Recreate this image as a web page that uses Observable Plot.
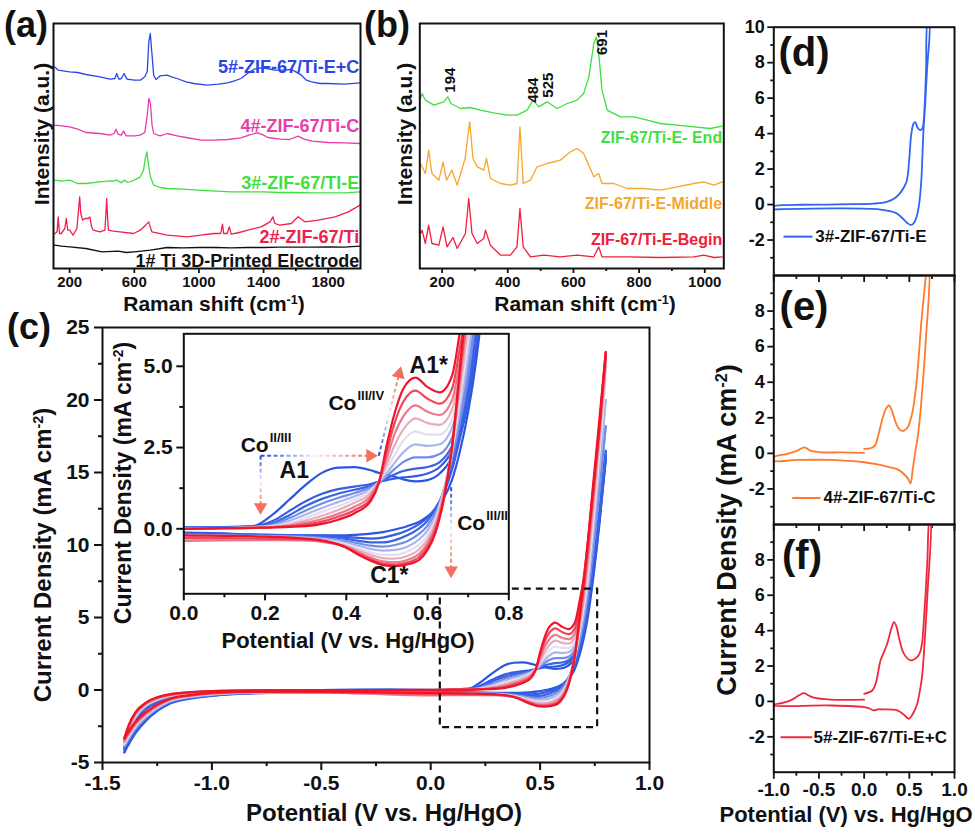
<!DOCTYPE html>
<html><head><meta charset="utf-8">
<script src="https://cdn.jsdelivr.net/npm/d3@7"></script>
<script src="https://cdn.jsdelivr.net/npm/@observablehq/plot@0.6"></script>
<style>
body{margin:0;background:#fff;}
#fig{position:relative;width:975px;height:833px;overflow:hidden;background:#fff;font-family:"Liberation Sans",Arial,sans-serif;font-weight:bold;}
.lbl{position:absolute;white-space:nowrap;font-weight:bold;line-height:1;color:#111;}
.lbl sup{font-size:0.6em;vertical-align:0.55em;line-height:0;}
</style></head><body><div id="fig"></div>
<script>
// ---------------- DATA ----------------
// (a) Raman spectra: [Raman shift cm-1, intensity a.u.]
const a5 = [[106,605],[130,595],[200,590],[250,588],[300,582],[387,575],[450,568],[480,570],[491,585],[505,568],[520,570],[537,585],[555,568],[600,565],[637,565],[665,575],[680,590],[690,680],[699,705],[710,640],[720,580],[735,567],[760,578],[803,580],[830,575],[865,570],[920,560],[969,555],[1052,550],[1120,553],[1177,557],[1220,563],[1260,570],[1300,585],[1343,598],[1385,602],[1420,600],[1468,595],[1520,595],[1572,597],[1600,590],[1634,580],[1665,565],[1697,560],[1750,555],[1800,555],[1900,553],[1998,557]];
const a4 = [[106,430],[150,428],[200,425],[250,418],[300,408],[387,405],[450,400],[475,405],[487,418],[500,403],[520,400],[533,412],[550,398],[600,398],[637,400],[665,408],[680,460],[690,510],[700,495],[710,430],[720,405],[760,398],[803,405],[865,398],[920,393],[1011,385],[1100,385],[1177,387],[1260,392],[1310,400],[1343,405],[1364,407],[1400,400],[1427,393],[1500,388],[1560,387],[1614,397],[1650,388],[1700,382],[1800,378],[1900,377],[1998,375]];
const a3 = [[106,265],[150,262],[200,265],[250,255],[300,255],[387,260],[450,263],[470,262],[491,265],[520,257],[537,265],[560,258],[600,265],[637,275],[657,295],[668,330],[678,350],[688,310],[700,275],[720,250],[760,243],[803,240],[900,238],[1000,235],[1100,232],[1200,230],[1300,230],[1400,230],[1500,228],[1600,228],[1700,227],[1800,227],[1900,227],[1998,230]];
const a2 = [[110,105],[122,110],[129,155],[137,105],[148,105],[170,120],[179,150],[188,115],[200,115],[221,100],[245,120],[255,175],[262,215],[269,165],[280,145],[295,150],[304,150],[315,150],[325,155],[336,125],[346,115],[387,110],[418,115],[424,160],[429,210],[434,160],[440,115],[470,112],[512,110],[595,105],[637,115],[670,130],[689,140],[709,110],[803,100],[928,95],[1011,100],[1094,105],[1135,105],[1146,133],[1153,105],[1175,105],[1188,125],[1200,103],[1250,108],[1302,115],[1385,125],[1440,140],[1458,155],[1470,135],[1500,130],[1572,135],[1614,155],[1655,140],[1738,145],[1842,155],[1925,170],[1998,190]];
const a1 = [[106,70],[150,67],[200,65],[300,60],[400,50],[500,52],[550,48],[600,50],[700,55],[803,63],[900,62],[1000,63],[1100,63],[1200,62],[1300,63],[1400,63],[1500,64],[1600,64],[1700,64],[1800,65],[1900,64],[1998,67]];
// (b) Raman spectra along the electrode
const bEnd = [[134,510],[139,525],[149,505],[175,490],[205,500],[217,515],[227,495],[256,480],[286,483],[317,475],[357,467],[398,460],[428,460],[459,475],[477,505],[494,485],[520,500],[550,480],[581,495],[611,505],[631,525],[647,575],[662,675],[670,695],[677,645],[687,535],[703,475],[743,455],[784,455],[825,445],[865,435],[916,430],[967,425],[1017,420],[1053,427]];
const bMiddle = [[134,315],[139,305],[149,285],[159,355],[169,285],[190,265],[203,320],[213,265],[230,295],[246,250],[270,330],[284,440],[294,330],[307,305],[327,295],[335,330],[347,270],[378,255],[408,250],[428,255],[437,425],[447,255],[469,265],[489,305],[520,315],[560,325],[591,350],[611,360],[631,345],[647,310],[662,275],[677,285],[687,255],[723,255],[764,240],[814,240],[865,235],[916,245],[967,255],[997,260],[1028,250],[1053,260]];
const bBegin = [[134,105],[139,115],[149,75],[159,130],[169,75],[190,70],[203,125],[215,65],[233,93],[246,60],[271,105],[281,210],[291,105],[307,75],[327,90],[332,115],[347,70],[378,40],[408,40],[428,65],[437,180],[447,65],[469,35],[510,40],[560,35],[611,40],[662,35],[677,65],[687,35],[764,35],[865,33],[967,35],[997,40],[1028,33],[1053,35]];
const bPeaks = ["194","484","525","691"];
const bPeakX = [225,477,522,687];
const bPeakY = [565,535,550,678];

// (c) CV cycles: potential grids (V vs Hg/HgO) and current density (mA cm-2)
const vAnodic = [-1.4,-1.38,-1.35,-1.3,-1.25,-1.2,-1.1,-1.0,-0.8,-0.5,-0.2,0.0,0.1,0.17,0.22,0.26,0.3,0.34,0.38,0.42,0.46,0.48,0.5,0.52,0.54,0.57,0.6,0.63,0.66,0.68,0.7,0.72,0.74,0.77,0.8];
const vCathodic = [-1.4,-1.35,-1.3,-1.2,-1.1,-1.0,-0.8,-0.6,-0.3,0.0,0.2,0.3,0.35,0.4,0.43,0.46,0.49,0.52,0.55,0.58,0.6,0.62,0.64,0.66,0.68,0.7,0.72,0.74,0.77,0.8];
const anod1 = [-4.3,-3.3,-2.2,-1.3,-0.85,-0.6,-0.32,-0.17,-0.06,-0.01,0.02,0.05,0.05,0.08,0.45,0.9,1.35,1.72,1.88,1.9,1.8,1.72,1.66,1.6,1.52,1.46,1.5,1.7,2.2,2.9,4.0,5.6,7.6,11.5,15.9];
const anod2 = [-4.1,-3.15,-2.1,-1.22,-0.8,-0.56,-0.3,-0.16,-0.05,-0.01,0.01,0.05,0.05,0.08,0.25,0.55,0.85,1.08,1.22,1.3,1.38,1.45,1.5,1.55,1.58,1.62,1.7,1.9,2.4,3.1,4.3,6.0,8.0,11.8,16.2];
const anod3 = [-4.0,-3.05,-2.0,-1.17,-0.76,-0.52,-0.28,-0.14,-0.05,0,0.01,0.04,0.04,0.07,0.18,0.42,0.7,0.92,1.08,1.2,1.32,1.42,1.55,1.68,1.78,1.85,1.9,2.05,2.55,3.3,4.6,6.3,8.4,12.2,16.5];
const anod4 = [-3.9,-2.95,-1.95,-1.12,-0.72,-0.49,-0.26,-0.13,-0.04,0,0.01,0.03,0.03,0.06,0.14,0.33,0.56,0.78,0.95,1.1,1.28,1.42,1.62,1.85,2.05,2.2,2.2,2.3,2.8,3.6,5.0,7.0,9.5,13.8,18.2];
const anod5 = [-3.8,-2.85,-1.88,-1.07,-0.68,-0.46,-0.24,-0.12,-0.04,0,0,0.02,0.02,0.05,0.1,0.25,0.44,0.64,0.82,1.0,1.22,1.42,1.72,2.05,2.35,2.6,2.55,2.6,3.1,3.9,5.4,7.5,10.5,15.3,20.0];
const anod6 = [-3.7,-2.75,-1.8,-1.02,-0.64,-0.43,-0.22,-0.11,-0.03,0,0,0.02,0.02,0.04,0.08,0.18,0.34,0.52,0.7,0.9,1.18,1.45,1.85,2.3,2.7,3.0,2.9,2.9,3.35,4.3,5.9,8.2,11.4,16.4,21.5];
const anod7 = [-3.6,-2.65,-1.73,-0.97,-0.6,-0.4,-0.2,-0.1,-0.03,0,0,0.01,0.02,0.04,0.06,0.13,0.25,0.4,0.58,0.8,1.1,1.45,2.0,2.6,3.05,3.4,3.25,3.2,3.65,4.8,6.4,9.0,12.2,17.1,22.3];
const anod8 = [-3.5,-2.58,-1.66,-0.93,-0.56,-0.37,-0.18,-0.09,-0.02,0,0,0.01,0.02,0.03,0.05,0.1,0.18,0.3,0.46,0.68,1.02,1.45,2.2,2.95,3.45,3.8,3.6,3.5,3.95,5.2,6.9,9.6,12.8,17.6,22.8];
const anod9 = [-3.4,-2.5,-1.6,-0.89,-0.53,-0.34,-0.16,-0.08,-0.02,0,0,0.0,0.02,0.03,0.05,0.08,0.13,0.22,0.37,0.57,0.93,1.42,2.4,3.3,3.9,4.25,4.0,3.85,4.3,5.6,7.3,10.1,13.2,17.9,23.1];
const anod10 = [-3.3,-2.4,-1.55,-0.85,-0.5,-0.32,-0.15,-0.07,-0.02,0,0,0.0,0.02,0.03,0.04,0.06,0.08,0.15,0.28,0.48,0.85,1.4,2.6,3.6,4.3,4.65,4.36,4.2,4.7,6.1,7.8,10.5,13.5,18.0,23.3];
const cath1 = [-4.3,-3.0,-2.1,-1.0,-0.6,-0.4,-0.22,-0.18,-0.15,-0.12,-0.18,-0.2,-0.2,-0.2,-0.18,-0.15,-0.1,-0.02,0.08,0.22,0.38,0.6,0.95,1.5,2.4,3.6,5.2,7.4,11.3,15.9];
const cath2 = [-4.1,-2.9,-2.0,-0.95,-0.57,-0.38,-0.21,-0.17,-0.15,-0.14,-0.19,-0.21,-0.22,-0.25,-0.28,-0.3,-0.27,-0.18,-0.05,0.15,0.35,0.65,1.1,1.8,2.8,3.9,5.6,7.8,11.6,16.2];
const cath3 = [-4.0,-2.8,-1.95,-0.9,-0.54,-0.36,-0.2,-0.16,-0.15,-0.16,-0.2,-0.23,-0.25,-0.31,-0.37,-0.42,-0.42,-0.35,-0.2,0.02,0.25,0.6,1.15,2.0,3.0,4.2,6.0,8.2,12.0,16.5];
const cath4 = [-3.9,-2.7,-1.9,-0.86,-0.51,-0.33,-0.19,-0.15,-0.15,-0.18,-0.22,-0.25,-0.29,-0.38,-0.45,-0.52,-0.55,-0.5,-0.38,-0.15,0.1,0.5,1.2,2.15,3.3,4.7,6.7,9.3,13.6,18.2];
const cath5 = [-3.8,-2.6,-1.82,-0.82,-0.48,-0.31,-0.18,-0.14,-0.16,-0.2,-0.23,-0.27,-0.32,-0.43,-0.52,-0.62,-0.67,-0.65,-0.55,-0.32,-0.05,0.4,1.2,2.3,3.7,5.3,7.4,10.3,15.0,20.0];
const cath6 = [-3.7,-2.5,-1.75,-0.78,-0.45,-0.29,-0.17,-0.15,-0.2,-0.26,-0.28,-0.31,-0.36,-0.48,-0.6,-0.72,-0.8,-0.8,-0.7,-0.48,-0.2,0.3,1.15,2.4,4.0,5.8,8.1,11.2,16.2,21.5];
const cath7 = [-3.6,-2.42,-1.7,-0.74,-0.42,-0.27,-0.16,-0.15,-0.24,-0.34,-0.33,-0.35,-0.4,-0.52,-0.66,-0.8,-0.9,-0.92,-0.84,-0.62,-0.33,0.2,1.1,2.5,4.3,6.3,8.8,12.0,17.0,22.3];
const cath8 = [-3.5,-2.35,-1.62,-0.7,-0.4,-0.24,-0.14,-0.14,-0.25,-0.37,-0.35,-0.36,-0.42,-0.55,-0.72,-0.88,-1.0,-1.03,-0.96,-0.76,-0.45,0.1,1.05,2.5,4.6,6.8,9.5,12.7,17.5,22.8];
const cath9 = [-3.4,-2.28,-1.56,-0.68,-0.37,-0.22,-0.13,-0.13,-0.18,-0.28,-0.3,-0.33,-0.4,-0.57,-0.77,-0.94,-1.07,-1.1,-1.04,-0.86,-0.55,0.0,0.95,2.5,4.8,7.2,10.1,13.4,18.1,23.1];
const cath10 = [-3.3,-2.2,-1.5,-0.65,-0.35,-0.2,-0.12,-0.12,-0.15,-0.2,-0.24,-0.3,-0.38,-0.58,-0.8,-0.98,-1.12,-1.15,-1.1,-0.95,-0.65,-0.1,0.9,2.5,5.0,7.6,10.5,13.8,18.5,23.3];
const anodicCycles = [anod1,anod2,anod3,anod4,anod5,anod6,anod7,anod8,anod9,anod10];
const cathodicCycles = [cath1,cath2,cath3,cath4,cath5,cath6,cath7,cath8,cath9,cath10];

// (d)-(f) CV curves: [V, mA cm-2] in scan order
const cv3E = [[-1.0,-0.08],[-0.9,-0.03],[-0.7,-0.01],[-0.4,0.0],[-0.1,0.02],[0.1,0.05],[0.25,0.15],[0.35,0.4],[0.42,0.8],[0.47,1.3],[0.5,2.6],[0.52,3.9],[0.545,4.55],[0.565,4.65],[0.59,4.35],[0.62,4.2],[0.645,4.3],[0.665,5.2],[0.685,7.5],[0.705,10.3],[0.72,10.3],[0.695,7.5],[0.675,5.6],[0.655,4.0],[0.632,1.3],[0.605,-0.1],[0.57,-0.85],[0.54,-1.1],[0.515,-1.15],[0.48,-1.05],[0.44,-0.85],[0.35,-0.47],[0.18,-0.28],[-0.37,-0.22],[-1.0,-0.28]];
const cv4C = [[0.0,0.25],[0.08,0.3],[0.12,0.45],[0.16,1.09],[0.2,1.9],[0.24,2.5],[0.273,2.69],[0.3,2.5],[0.33,2.03],[0.36,1.6],[0.4,1.3],[0.44,1.28],[0.48,1.45],[0.52,2.0],[0.55,2.78],[0.58,4.0],[0.605,5.5],[0.63,7.2],[0.66,8.8],[0.70,10.3],[0.715,10.3],[0.68,6.2],[0.65,4.0],[0.624,2.4],[0.595,1.0],[0.568,0.15],[0.54,-0.8],[0.513,-1.7],[0.49,-1.45],[0.44,-1.16],[0.37,-0.9],[0.29,-0.79],[0.15,-0.62],[0.0,-0.5],[-0.37,-0.37],[-0.74,-0.37],[-1.0,-0.41],[-1.0,-0.22],[-0.85,-0.03],[-0.74,0.15],[-0.66,0.34],[-0.594,0.15],[-0.483,0.06],[-0.26,0.05],[0.0,0.03]];
const cv5EC = [[0.0,0.43],[0.09,0.62],[0.12,0.9],[0.145,1.37],[0.18,2.3],[0.22,2.8],[0.255,3.26],[0.3,4.1],[0.33,4.48],[0.36,4.2],[0.384,3.63],[0.44,2.7],[0.513,2.32],[0.587,2.5],[0.62,2.8],[0.64,3.26],[0.66,4.5],[0.68,6.1],[0.70,8.0],[0.725,10.3],[0.735,10.3],[0.70,6.0],[0.68,4.2],[0.66,2.6],[0.64,1.37],[0.61,0.4],[0.587,-0.13],[0.55,-0.6],[0.494,-0.98],[0.44,-0.75],[0.366,-0.51],[0.22,-0.45],[0.15,-0.45],[0.107,-0.51],[0.06,-0.4],[0.0,-0.32],[-0.37,-0.23],[-1.0,-0.23],[-1.0,-0.2],[-0.9,-0.08],[-0.815,0.06],[-0.72,0.35],[-0.668,0.47],[-0.6,0.3],[-0.557,0.21],[-0.37,0.1],[0.0,0.1]];

// tick values
const aTicks = [200,600,1000,1400,1800], aMinor = [400,800,1200,1600];
const bTicks = [200,400,600,800,1000], bMinor = [300,500,700,900];
const cXTicks = [-1.5,-1.0,-0.5,0.0,0.5,1.0], cXMinor = [-1.25,-0.75,-0.25,0.25,0.75];
const cYTicks = [-5,0,5,10,15,20,25], cYMinor = [-2.5,2.5,7.5,12.5,17.5,22.5];
const iXTicks = [0,0.2,0.4,0.6,0.8], iXMinor = [0.1,0.3,0.5,0.7];
const iYTicks = [0,2.5,5], iYMinor = [-1.25,1.25,3.75];
const rXTicks = [-1,-0.5,0,0.5,1], rXMinor = [-0.75,-0.25,0.25,0.75];
const rYTicksD = [-2,0,2,4,6,8,10], rYTicks = [-2,0,2,4,6,8], rYMinor = [-3,-1,1,3,5,7,9];

// ---------------- STYLE / LAYOUT ----------------
const FONT = "'Liberation Sans', Arial, Helvetica, sans-serif";
const fig = document.getElementById("fig");
const f1 = d => d.toFixed(1);
const blank = () => "";
function baseStyle(fs){return {background:"transparent",overflow:"visible",fontFamily:FONT,fontWeight:"bold",fontSize:fs+"px",color:"#111"};}
function place(el,left,top){el.style.position="absolute";el.style.left=left+"px";el.style.top=top+"px";fig.appendChild(el);return el;}
function htmlLabel(html,cx,cy,fs,rot,color){const d=document.createElement("div");d.className="lbl";d.innerHTML=html;d.style.fontSize=fs+"px";if(color)d.style.color=color;d.style.left=cx+"px";d.style.top=cy+"px";d.style.transform="translate(-50%,-50%)"+(rot?" rotate(-90deg)":"");fig.appendChild(d);}
function pairs(arr){return arr.map(p=>({x:p[0],y:p[1]}));}

// ---------- (a) ----------
const aSeries = [
  {data:a5,color:"#2c46e6",name:"5#-ZIF-67/Ti-E+C",ly:605},
  {data:a4,color:"#ea3caa",name:"4#-ZIF-67/Ti-C",ly:427},
  {data:a3,color:"#3fdf3f",name:"3#-ZIF-67/TI-E",ly:255},
  {data:a2,color:"#f0204c",name:"2#-ZIF-67/Ti",ly:93},
  {data:a1,color:"#111111",name:"1# Ti 3D-Printed Electrode",ly:23}
];
const plotA = Plot.plot({
  width:365,height:300,marginLeft:53,marginRight:5,marginTop:23,marginBottom:32,
  x:{domain:[100,2000]},y:{domain:[0,735],axis:null},
  style:baseStyle(15),
  marks:[
    ...aSeries.map(s=>Plot.line(pairs(s.data),{x:"x",y:"y",stroke:s.color,strokeWidth:1.3})),
    ...aSeries.map(s=>Plot.text([{x:1992,y:s.ly}],{x:"x",y:"y",text:()=>s.name,fill:s.color,textAnchor:"end",fontSize:18})),
    Plot.frame({strokeWidth:2}),
    Plot.axisX(aTicks,{tickSize:5,tickPadding:3,tickFormat:d=>String(d),strokeWidth:1.8,fontSize:15,label:null}),
    Plot.axisX(aMinor,{tickSize:3,tickFormat:blank,strokeWidth:1.8,label:null})
  ]
});
place(plotA,0,0);

// ---------- (b) ----------
const bSeries = [
  {data:bEnd,color:"#3fdf3f",name:"ZIF-67/Ti-E- End",ly:392},
  {data:bMiddle,color:"#f6a62a",name:"ZIF-67/Ti-E-Middle",ly:193},
  {data:bBegin,color:"#f0203c",name:"ZIF-67/Ti-E-Begin",ly:87}
];
const plotB = Plot.plot({
  width:370,height:300,marginLeft:59.3,marginRight:6.7,marginTop:23,marginBottom:32,
  x:{domain:[132,1058]},y:{domain:[0,735],axis:null},
  style:baseStyle(15),
  marks:[
    ...bSeries.map(s=>Plot.line(pairs(s.data),{x:"x",y:"y",stroke:s.color,strokeWidth:1.3})),
    ...bSeries.map(s=>Plot.text([{x:1053,y:s.ly}],{x:"x",y:"y",text:()=>s.name,fill:s.color,textAnchor:"end",fontSize:16})),
    Plot.text(bPeaks,{x:(d,i)=>bPeakX[i],y:(d,i)=>bPeakY[i],text:d=>d,rotate:-90,fontSize:15,fill:"#111"}),
    Plot.frame({strokeWidth:2}),
    Plot.axisX(bTicks,{tickSize:5,tickPadding:3,tickFormat:d=>String(d),strokeWidth:1.8,fontSize:15,label:null}),
    Plot.axisX(bMinor,{tickSize:3,tickFormat:blank,strokeWidth:1.8,label:null})
  ]
});
place(plotB,360,0);

// ---------- (c) main ----------
const cvRecords = [];
anodicCycles.forEach((js,k)=>{
  js.forEach((j,i)=>cvRecords.push({cycle:k+1,branch:"a",V:vAnodic[i],j}));
  cathodicCycles[k].forEach((j,i)=>cvRecords.push({cycle:k+1,branch:"c",V:vCathodic[i],j}));
});
const cvColor = {type:"linear",domain:[1,3,6,10],range:["#2b56e4","#3a63e2","#e4def0","#f01428"]};
const zoomBox = {x1:0.044,x2:0.763,y1:-2.6,y2:6.96};
const plotC = Plot.plot({
  width:700,height:500,marginLeft:102,marginRight:51,marginTop:27,marginBottom:38,
  x:{domain:[-1.5,1.0]},y:{domain:[-5,25]},color:cvColor,
  style:baseStyle(21),
  marks:[
    Plot.line(cvRecords,{x:"V",y:"j",z:d=>d.cycle+d.branch,stroke:"cycle",strokeWidth:2.2,curve:"monotone-x"}),
    Plot.rect([zoomBox],{x1:"x1",x2:"x2",y1:"y1",y2:"y2",fill:"none",stroke:"#111",strokeWidth:2.2,strokeDasharray:"7,5"}),
    Plot.frame({strokeWidth:2}),
    Plot.axisX(cXTicks,{tickSize:8,tickPadding:5,tickFormat:f1,strokeWidth:2,fontSize:21,label:null}),
    Plot.axisX(cXMinor,{tickSize:4,tickFormat:blank,strokeWidth:2,label:null}),
    Plot.axisY(cYTicks,{tickSize:8,tickPadding:5,tickFormat:d=>String(d),strokeWidth:2,fontSize:21,label:null}),
    Plot.axisY(cYMinor,{tickSize:4,tickFormat:blank,strokeWidth:2,label:null})
  ]
});
place(plotC,0,300);

// ---------- (c) inset ----------
const insetArrows = [
  {x1:0.189,y1:2.25,x2:0.189,y2:0.67},
  {x1:0.189,y1:2.25,x2:0.459,y2:2.25},
  {x1:0.48,y1:2.25,x2:0.53,y2:4.77},
  {x1:0.658,y1:1.28,x2:0.658,y2:-1.28}
];
const arrowHeadRotate = [180,90,14,180];
const peakLabels = [{x:0.272,y:1.79,t:"A1"},{x:0.603,y:5.03,t:"A1*"},{x:0.506,y:-1.44,t:"C1*"}];
const coLabels = [{x:0.14,y:2.56,sup:"II/III"},{x:0.356,y:3.86,sup:"III/IV"},{x:0.673,y:0.16,sup:"III/II"}];
const plotI = Plot.plot({
  width:420,height:330,marginLeft:83.3,marginRight:11.7,marginTop:13.3,marginBottom:56.7,
  x:{domain:[0,0.8]},y:{domain:[-2,6]},color:cvColor,
  style:baseStyle(21),
  marks:[
    Plot.frame({fill:"white",stroke:"none"}),
    Plot.line(cvRecords,{x:"V",y:"j",z:d=>d.cycle+d.branch,stroke:"cycle",strokeWidth:2.2,curve:"monotone-x",clip:true}),
    ...insetArrows.map((a,i)=>Plot.link([a],{x1:"x1",y1:"y1",x2:"x2",y2:"y2",stroke:`url(#cvArrow${i})`,strokeWidth:2,strokeDasharray:"4,2.5"})),
    ...insetArrows.map((a,i)=>Plot.dot([a],{x:"x2",y:"y2",symbol:"triangle",r:5,fill:"#f4705c",stroke:"none",rotate:arrowHeadRotate[i]})),
    Plot.text(peakLabels,{x:"x",y:"y",text:"t",fontSize:23,fill:"#111"}),
    Plot.text(coLabels,{x:"x",y:"y",text:()=>"Co",textAnchor:"start",fontSize:21,fill:"#111"}),
    Plot.text(coLabels,{x:"x",y:"y",text:"sup",textAnchor:"start",dx:29,dy:-8,fontSize:13,fill:"#111"}),
    Plot.frame({strokeWidth:2}),
    Plot.axisX(iXTicks,{tickSize:7,tickPadding:4,tickFormat:f1,strokeWidth:2,fontSize:21,label:null}),
    Plot.axisX(iXMinor,{tickSize:4,tickFormat:blank,strokeWidth:2,label:null}),
    Plot.axisY(iYTicks,{tickSize:7,tickPadding:4,tickFormat:f1,strokeWidth:2,fontSize:21,label:null}),
    Plot.axisY(iYMinor,{tickSize:4,tickFormat:blank,strokeWidth:2,label:null})
  ]
});
(function addGradients(svg){
  const sx=svg.scale("x"),sy=svg.scale("y"),ns="http://www.w3.org/2000/svg";
  const defs=document.createElementNS(ns,"defs");
  insetArrows.forEach((a,i)=>{
    const g=document.createElementNS(ns,"linearGradient");
    g.setAttribute("id","cvArrow"+i);g.setAttribute("gradientUnits","userSpaceOnUse");
    g.setAttribute("x1",sx.apply(a.x1));g.setAttribute("y1",sy.apply(a.y1));
    g.setAttribute("x2",sx.apply(a.x2));g.setAttribute("y2",sy.apply(a.y2));
    [["0%","#2448e0"],["50%","#f3eef5"],["100%","#f4664f"]].forEach(([o,c])=>{const s=document.createElementNS(ns,"stop");s.setAttribute("offset",o);s.setAttribute("stop-color",c);g.appendChild(s);});
    defs.appendChild(g);
  });
  svg.insertBefore(defs,svg.firstChild);
})(plotI);
place(plotI,100,320);

// ---------- (d)(e)(f) ----------
function rightPanel(path,color,leg,o){
  return Plot.plot({
    width:275,height:o.h,marginLeft:73.3,marginRight:21,marginTop:o.mt,marginBottom:o.mb,
    x:{domain:[-1,1]},y:{domain:[-4,10]},
    style:baseStyle(18),
    marks:[
      Plot.line(path,{x:d=>d[0],y:d=>d[1],stroke:color,strokeWidth:1.8,curve:"catmull-rom",clip:true}),
      Plot.link([leg],{x1:"x1",x2:"x2",y1:"y",y2:"y",stroke:color,strokeWidth:2}),
      Plot.text([leg],{x:"tx",y:"y",text:"name",textAnchor:"start",fontSize:17,fill:"#111"}),
      Plot.frame({strokeWidth:2}),
      Plot.axisX(rXTicks,{tickSize:7,tickPadding:3,tickFormat:o.xl?f1:blank,strokeWidth:1.8,fontSize:19,label:null}),
      Plot.axisX(rXMinor,{tickSize:4,tickFormat:blank,strokeWidth:1.8,label:null}),
      Plot.axisY(o.yt,{tickSize:6,tickPadding:3,tickFormat:d=>String(d),strokeWidth:1.8,fontSize:18,label:null}),
      Plot.axisY(rYMinor,{tickSize:3,tickFormat:blank,strokeWidth:1.8,label:null})
    ]
  });
}
place(rightPanel(cv3E,"#3264f0",{x1:-0.893,x2:-0.572,y:-1.81,tx:-0.54,name:"3#-ZIF-67/Ti-E"},{h:290,mt:26.7,mb:15,yt:rYTicksD,xl:false}),700,0);
place(rightPanel(cv4C,"#ff7a2a",{x1:-0.796,x2:-0.483,y:-2.51,tx:-0.45,name:"4#-ZIF-67/Ti-C"},{h:290,mt:15,mb:26,yt:rYTicks,xl:false}),700,260);
place(rightPanel(cv5EC,"#f0283c",{x1:-0.926,x2:-0.575,y:-2.02,tx:-0.56,name:"5#-ZIF-67/Ti-E+C"},{h:323,mt:14,mb:61.3,yt:rYTicks,xl:true}),700,510);

// ---------- titles & panel letters ----------
htmlLabel("Intensity (a.u.)",41,134,21,true);
htmlLabel("Intensity (a.u.)",404,134,21,true);
htmlLabel("Raman shift (cm<sup>-1</sup>)",214,303,21);
htmlLabel("Raman shift (cm<sup>-1</sup>)",585,303,21);
htmlLabel("Current Density (mA cm<sup>-2</sup>)",43,555,24,true);
htmlLabel("Potential (V vs. Hg/HgO)",384,813,24);
htmlLabel("Current Density (mA cm<sup>-2</sup>)",123,483,23,true);
htmlLabel("Potential (V vs. Hg/HgO)",348,641,22);
htmlLabel("Current Density (mA cm<sup>-2</sup>)",727,530,27,true);
htmlLabel("Potential (V) vs. Hg/HgO",846,815,22);
htmlLabel("(a)",26,25,36);
htmlLabel("(b)",387,25,36);
htmlLabel("(c)",29,327,36);
htmlLabel("(d)",804,52,40);
htmlLabel("(e)",804,306,40);
htmlLabel("(f)",802,555,40);
</script></body></html>
